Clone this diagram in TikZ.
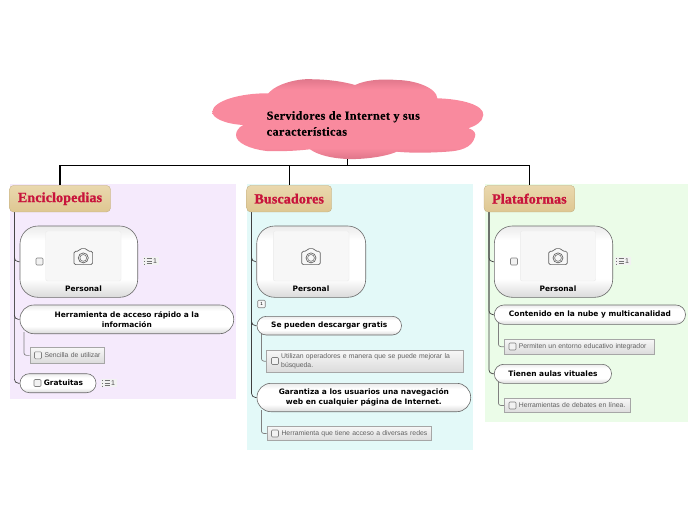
\documentclass[tikz,border=0pt]{standalone}
\usepackage{fontspec}
\setmainfont{Liberation Sans}
\newfontfamily\titlefont{Liberation Serif Bold}[LetterSpace=3,FakeBold=0.3]
\newfontfamily\topicfont{Liberation Serif Bold}[FakeBold=1.2,LetterSpace=1]
\newfontfamily\labelfont{DejaVu Sans Bold}
\newfontfamily\smallfont{Liberation Sans}
\definecolor{crim}{HTML}{C8143C}
\definecolor{pinkc}{HTML}{F98A9E}
\definecolor{pinkd}{HTML}{DE7589}
\definecolor{tanl}{HTML}{EAD8AE}
\definecolor{tand}{HTML}{DEC792}
\definecolor{edgec}{HTML}{6A6A6A}
\definecolor{boxtop}{HTML}{EBEBEB}
\definecolor{boxbot}{HTML}{DADADA}
\pgfdeclarelayer{areas}
\pgfdeclarelayer{links}
\pgfsetlayers{areas,links,main}
\pgfdeclareverticalshading{cloudsh}{100bp}{
  color(0bp)=(pinkd);color(25bp)=(pinkd);color(32bp)=(pinkc);color(68bp)=(pinkc);color(75bp)=(pinkd);color(100bp)=(pinkd)}
\pgfdeclareverticalshading{pillsh}{100bp}{
  color(0bp)=(boxbot);color(25bp)=(boxbot);color(38bp)=(white);color(65bp)=(white);color(75bp)=(boxtop);color(100bp)=(boxtop)}
\tikzset{
  x=1pt,y=-1pt,
  trunk/.style={draw=black,line width=1.4pt},
  conn/.style={draw=black!75,line width=.7pt,rounded corners=4pt},
  subconn/.style={draw=black!50,line width=.7pt,rounded corners=2.5pt},
  topic/.style={rectangle,rounded corners=4pt,draw=tand!85!black,line width=.3pt,top color=tanl,bottom color=tand,
    inner sep=0pt,minimum height=26.5pt,text=crim,font=\topicfont\fontsize{14}{16}\selectfont},
  pill/.style={rectangle,draw=edgec,line width=.6pt,shading=pillsh,inner sep=0pt,align=center,
    font=\labelfont\fontsize{7.45}{10}\selectfont,text=black},
  imgbox/.style={pill,rounded corners=18pt},
  inner box/.style={rectangle,rounded corners=2pt,draw=black!8,fill=black!3,line width=.4pt,inner sep=0pt},
  sublabel/.style={rectangle,draw=black!35,line width=.6pt,top color=black!3,bottom color=black!14,inner sep=0pt,
    align=left,text=black!62,font=\smallfont\fontsize{6.85}{9}\selectfont,execute at begin node={\leftskip=14.5pt\relax}},
  chk/.style={rectangle,rounded corners=1pt,draw=black!50,fill=black!5,line width=.6pt,inner sep=0pt,minimum size=7pt},
  plainlabel/.style={inner sep=0pt,font=\labelfont\fontsize{7.45}{10}\selectfont,text=black},
  pics/camicon/.style={code={
    \draw[black!62,line width=.7pt,rounded corners=1.5pt]
      (-9.3,-5.3) -- (-4.6,-5.3) -- (-3.2,-8) -- (3.2,-8) -- (4.6,-5.3) -- (9.3,-5.3) -- (9.3,8) -- (-9.3,8) -- cycle;
    \draw[black!62,line width=.7pt] (0,1.3) circle (5);
    \draw[black!62,line width=.5pt] (0,1.3) circle (3.4);
  }},
  pics/noteicon/.style={code={
    \fill[black!5] (-6.5,-4) rectangle (9,4);
    \draw[black!55,line width=.5pt] (-3,-2.5) -- (2.5,-2.5) (-3,0) -- (2.5,0) (-3,2.5) -- (2.5,2.5);
    \draw[black!55,line width=.8pt,dotted] (-5,-3) -- (-5,3);
    \node[inner sep=0pt,font=\smallfont\fontsize{7}{8}\selectfont,text=black!70] at (5.5,0.3) {1};
  }}
}
\begin{document}
\begin{tikzpicture}
\useasboundingbox (0,0) rectangle (696,520);
% areas
\begin{pgfonlayer}{areas}
\fill[color={rgb,255:red,245;green,234;blue,252}] (10,184) rectangle (236,399);
\fill[color={rgb,255:red,227;green,249;blue,248}] (247,184) rectangle (473,450);
\fill[color={rgb,255:red,235;green,252;blue,232}] (484.5,184) rectangle (688,422);
\end{pgfonlayer}
% cloud
\path[shading=cloudsh]
  (268.3,93.3) .. controls (276,84) and (298,78) .. (313,79.3)
  .. controls (330,79.5) and (345,82) .. (355,85)
  .. controls (368,79) and (385,79) .. (396.7,80)
  .. controls (415,80) and (437,88) .. (437.3,98.3)
  .. controls (462,99) and (484,105) .. (483.3,115)
  .. controls (483,122) and (475,126) .. (468.3,128.3)
  .. controls (475,130) and (476,134) .. (475,136.7)
  .. controls (472,148) and (460,151) .. (446.7,151.7)
  .. controls (428,153) and (410,153) .. (396.7,151.7)
  .. controls (385,157) and (362,159.5) .. (348.3,159)
  .. controls (332,158.5) and (318,155) .. (310,149.3)
  .. controls (295,151) and (280,151.5) .. (266.7,151)
  .. controls (250,149) and (236,143) .. (236,135)
  .. controls (236,131) and (239,127) .. (243.3,125)
  .. controls (225,124) and (212,118) .. (212.3,111.7)
  .. controls (213,101) and (240,93) .. (268.3,93.3) -- cycle;
\coordinate (cloudfoot) at (347.7,158);
\coordinate (bus) at (347.7,165.7);
\node[inner sep=0pt,align=left,anchor=north west,font=\titlefont\fontsize{12.2}{16}\selectfont,text=black] (title) at (266.5,111)
  {Servidores de Internet y sus\\caracter\'isticas};
% topics
\node[topic,minimum width=101pt] (enc) at (60,198.7) {Enciclopedias};
\node[topic,minimum width=85pt] (bus1) at (289.2,198.7) {Buscadores};
\node[topic,minimum width=90.7pt] (pla) at (529.4,198.7) {Plataformas};
% Enciclopedias
\node[imgbox,minimum width=117.7pt,minimum height=71.3pt] (img1) at (78.85,261.65) {};
\node[inner box,minimum width=75.3pt,minimum height=50pt] (in1) at (83.35,256) {};
\pic at (83.3,256.6) {camicon};
\node[chk] (c1) at (39.5,261.5) {};
\node[plainlabel] (p1) at (83.5,288.5) {Personal};
\pic at (149.5,261) {noteicon};
\node[pill,rounded corners=14pt,minimum width=213.7pt,minimum height=28.7pt] (her) at (126.85,319.35)
  {Herramienta de acceso r\'apido a la\\informaci\'on};
\node[sublabel,text width=74.7pt,minimum height=15.3pt] (sen) at (67.35,355.35) {Sencilla de utilizar};
\node[chk] (c2) at (38,355.3) {};
\node[pill,rounded corners=9.4pt,minimum width=76pt,minimum height=19pt] (gra) at (58,383.2) {\hspace*{11pt}Gratuitas};
\node[chk] (c3) at (37.5,383) {};
\pic at (107.5,383) {noteicon};
% Buscadores
\node[imgbox,minimum width=109pt,minimum height=71.3pt] (img2) at (311.2,261.65) {};
\node[inner box,minimum width=75.7pt,minimum height=50pt] (in2) at (311.15,256) {};
\pic at (311,256.6) {camicon};
\node[plainlabel] (p2) at (311,288.5) {Personal};
\node[chk,minimum size=7.5pt,fill=black!3,font=\smallfont\fontsize{4.5}{5}\selectfont] (c4) at (261.5,304) {1};
\node[pill,rounded corners=9.3pt,minimum width=144.5pt,minimum height=18.7pt] (des) at (329.25,325.65) {Se pueden descargar gratis};
\node[sublabel,text width=196.8pt,minimum height=22.3pt] (uti) at (365.1,361.15)
  {Utilizan operadores e manera que se puede mejorar la\\b\'usqueda.};
\node[chk] (c5) at (275,361) {};
\node[pill,rounded corners=14pt,minimum width=213.7pt,minimum height=28.4pt] (gar) at (363.85,397.5)
  {Garantiza a los usuarios una navegaci\'on\\web en cualquier p\'agina de Internet.};
\node[sublabel,text width=164.7pt,minimum height=14.4pt] (hta) at (349.35,433.5) {Herramienta que tiene acceso a diversas redes};
\node[chk] (c6) at (275,433.5) {};
% Plataformas
\node[imgbox,minimum width=118.4pt,minimum height=71.3pt] (img3) at (553.5,261.65) {};
\node[inner box,minimum width=75.4pt,minimum height=50pt] (in3) at (558,256) {};
\pic at (558,256.6) {camicon};
\node[chk] (c7) at (514,261.5) {};
\node[plainlabel] (p3) at (558,288.5) {Personal};
\pic at (621.5,261) {noteicon};
\node[pill,rounded corners=9.6pt,minimum width=191.2pt,minimum height=19.3pt] (con) at (589.9,314.65) {Contenido en la nube y multicanalidad};
\node[sublabel,text width=150pt,minimum height=14.7pt] (per) at (579.3,346.65) {Permiten un entorno educativo integrador};
\node[chk] (c8) at (512.5,346.5) {};
\node[pill,rounded corners=9.4pt,minimum width=117.2pt,minimum height=19pt] (tie) at (552.9,373.8) {Tienen aulas vituales};
\node[sublabel,text width=125.7pt,minimum height=14.4pt] (hde) at (567.15,405.5) {Herramientas de debates en l\'inea.};
\node[chk] (c9) at (512.5,405.5) {};
% links
\begin{pgfonlayer}{links}
\draw[trunk] (cloudfoot) -- (bus);
\draw[trunk] (enc.north) |- (bus) -| (pla.north);
\draw[trunk,line width=1.2pt] (bus1.north) -- (bus1.north |- bus);
\foreach \t/\n in {enc/img1,enc/her,enc/gra}
  \draw[conn] ([xshift=5pt]\t.south west) |- (\n.west);
\foreach \t/\n in {bus1/img2,bus1/des,bus1/gar}
  \draw[conn] ([xshift=5pt]\t.south west) |- (\n.west);
\foreach \t/\n in {pla/img3,pla/con,pla/tie}
  \draw[conn] ([xshift=5pt]\t.south west) |- (\n.west);
\draw[subconn] ([xshift=4.2pt,yshift=2pt]her.south west) |- (sen.west);
\draw[subconn] ([xshift=4.7pt,yshift=2pt]des.south west) |- (uti.west);
\draw[subconn] ([xshift=4.7pt,yshift=2pt]gar.south west) |- (hta.west);
\draw[subconn] ([xshift=4.4pt,yshift=2pt]con.south west) |- (per.west);
\draw[subconn] ([xshift=4.4pt,yshift=2pt]tie.south west) |- (hde.west);
\end{pgfonlayer}
\end{tikzpicture}
\end{document}
